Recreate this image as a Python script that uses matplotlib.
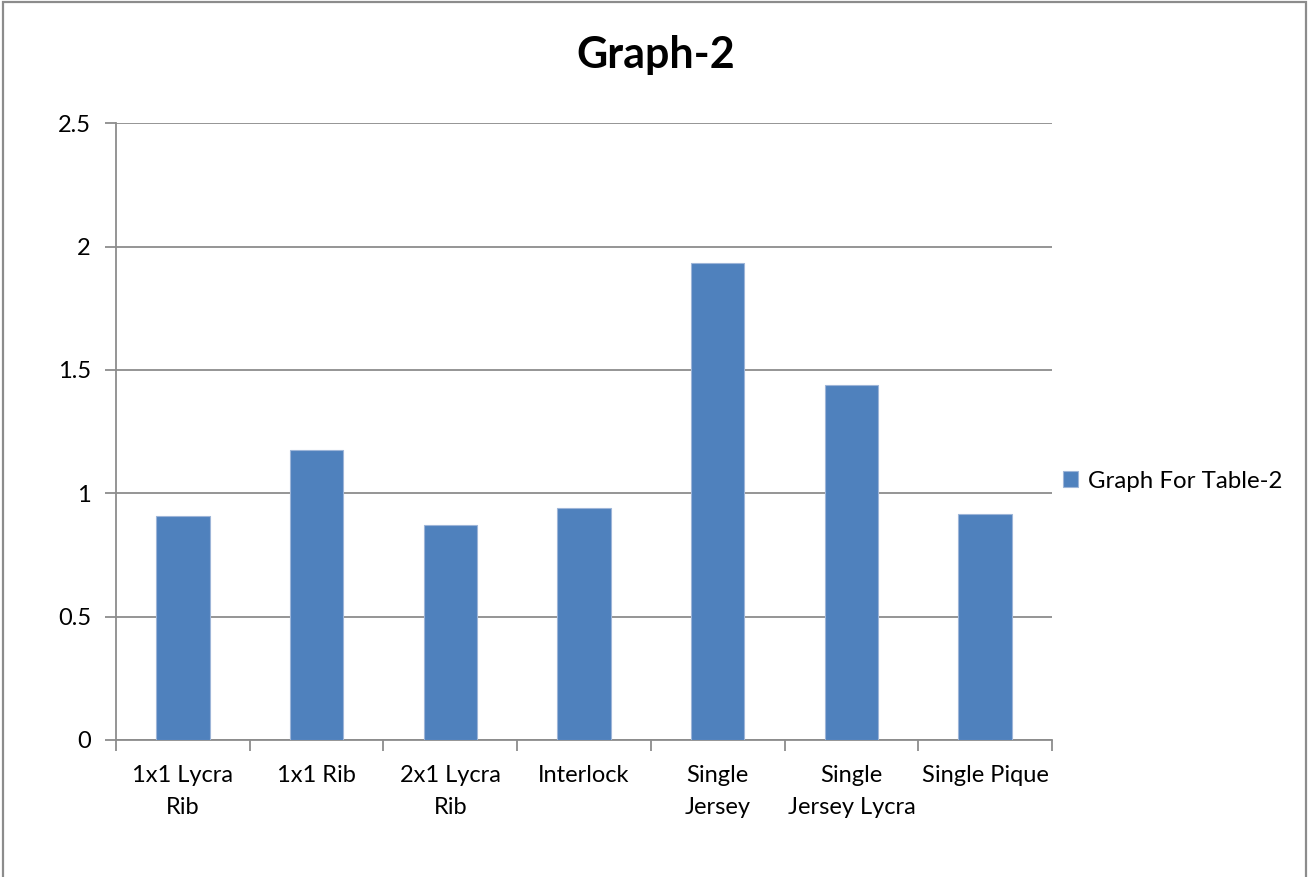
import matplotlib
matplotlib.use("Agg")
import matplotlib.pyplot as plt
from matplotlib.patches import Rectangle

categories = ["1x1 Lycra\nRib", "1x1 Rib", "2x1 Lycra\nRib", "Interlock",
              "Single\nJersey", "Single\nJersey Lycra", "Single Pique"]
values = [0.908, 1.176, 0.872, 0.942, 1.934, 1.438, 0.916]
series_name = "Graph For Table-2"
y_ticks = [0, 0.5, 1, 1.5, 2, 2.5]
y_tick_labels = ["0", "0.5", "1", "1.5", "2", "2.5"]

plt.rcParams['font.family'] = ['Lato', 'DejaVu Sans']

W, H = 1309, 877
fig = plt.figure(figsize=(W / 100, H / 100), dpi=100)
ax = fig.add_axes([116 / W, 1 - 740 / H, (1052 - 116) / W, (740 - 123.3) / H])

grid_c = "#8c8c8c"
bar_c = "#4f81bd"

x = list(range(len(categories)))
ax.bar(x, values, width=0.4, color=bar_c, edgecolor="#9db5d8", linewidth=0.8,
       label=series_name, zorder=3)

ax.set_xlim(-0.5, len(categories) - 0.5)
ax.set_ylim(0, 2.5)
ax.set_yticks(y_ticks)
ax.set_yticklabels(y_tick_labels, fontsize=17)
ax.yaxis.grid(True, color=grid_c, linewidth=1.3, zorder=0)

ax.set_xticks(x)
ax.set_xticklabels(categories, fontsize=17, linespacing=1.62)
ax.tick_params(axis="x", length=0, pad=18)
ax.set_xticks([i - 0.5 for i in range(len(categories) + 1)], minor=True)
ax.tick_params(axis="x", which="minor", length=8, width=1.3, color=grid_c, direction="out")
ax.tick_params(axis="y", length=8, width=1.3, color=grid_c, direction="out", pad=10)

for side in ("top", "right"):
    ax.spines[side].set_visible(False)
for side in ("left", "bottom"):
    ax.spines[side].set_color(grid_c)
    ax.spines[side].set_linewidth(1.3)

fig.text(656 / W, 1 - 55 / H, "Graph-2", ha="center", va="center",
         fontsize=31, fontweight="bold")

ax.legend(loc="center left", bbox_to_anchor=(1053 / W, 1 - 481 / H),
          bbox_transform=fig.transFigure, frameon=False, fontsize=17.3,
          handlelength=0.62, handleheight=0.62, handletextpad=0.45, borderaxespad=0)

fig.patches.append(Rectangle((3 / W, -0.05), (1306 - 3) / W, 1.05 - 2 / H,
                             transform=fig.transFigure, fill=False,
                             edgecolor="#8c8c8c", linewidth=1.6))

fig.savefig("out.png", dpi=100)
